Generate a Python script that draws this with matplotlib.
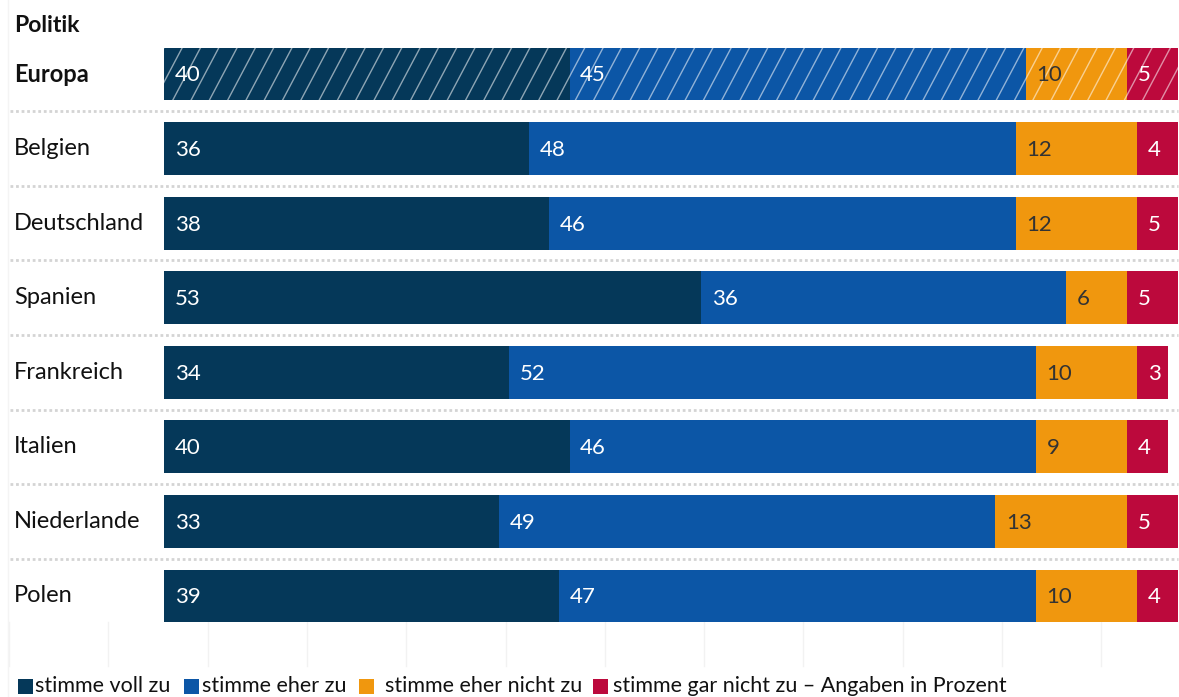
import matplotlib
matplotlib.use("Agg")
import matplotlib.pyplot as plt
from matplotlib.patches import Rectangle
from matplotlib.lines import Line2D
from matplotlib.collections import LineCollection
import matplotlib.transforms as mtransforms
import numpy as np

plt.rcParams['font.family'] = ['Lato', 'DejaVu Sans']

title = "Politik"
countries = ["Europa", "Belgien", "Deutschland", "Spanien", "Frankreich",
             "Italien", "Niederlande", "Polen"]
voll_zu = [40, 36, 38, 53, 34, 40, 33, 39]
eher_zu = [45, 48, 46, 36, 52, 46, 49, 47]
eher_nicht_zu = [10, 12, 12, 6, 10, 9, 13, 10]
gar_nicht_zu = [5, 4, 5, 5, 3, 4, 5, 4]
series_names = ["stimme voll zu", "stimme eher zu", "stimme eher nicht zu",
                "stimme gar nicht zu – Angaben in Prozent"]
colors = ["#053859", "#0c56a6", "#f0970e", "#bc093c"]
text_colors = ["white", "white", "#333333", "white"]

W, H = 1179, 697
fig = plt.figure(figsize=(W / 100, H / 100), dpi=100)

left_px, right_px = 164, 1178
row0_c, row_step = 74.0, 74.57
top_px = row0_c - row_step / 2
bot_px = row0_c + row_step * (len(countries) - 0.5)
ax = fig.add_axes([left_px / W, 1 - bot_px / H, (right_px - left_px) / W, (bot_px - top_px) / H])
ax.set_xlim(0, 100)
ax.set_ylim(len(countries) - 0.5, -0.5)
ax.axis("off")

fpx = mtransforms.Affine2D().scale(1 / W, -1 / H).translate(0, 1) + fig.transFigure

# faint vertical background lines
for gx in np.arange(9, 1179, 99.3):
    fig.add_artist(Line2D([gx, gx], [622, 666], transform=fpx, color="#f2f2f2", lw=1, zorder=0))
fig.add_artist(Line2D([8, 8], [0, 697], transform=fpx, color="#f4f4f4", lw=1, zorder=0))

series = [voll_zu, eher_zu, eher_nicht_zu, gar_nicht_zu]
y = np.arange(len(countries))
bar_h = 0.71
ux = 100 / (right_px - left_px)   # data units per pixel (x)
lefts = np.zeros(len(countries))
for si, vals in enumerate(series):
    vals = np.array(vals, dtype=float)
    bars = ax.barh(y, vals, left=lefts, height=bar_h, color=colors[si], linewidth=0)
    # hatch overlay for the Europe row
    p = bars[0]
    shift = 28 * ux
    step = 18.3 * ux
    segs = []
    for xs in np.arange(-shift, 100 + step, step):
        segs.append([(xs, y[0] + bar_h / 2), (xs + shift, y[0] - bar_h / 2)])
    lc = LineCollection(segs, colors=[(1, 1, 1, 0.55)], linewidths=1.0, zorder=3)
    ax.add_collection(lc)
    lc.set_clip_path(p)
    for i in range(len(countries)):
        ax.text(lefts[i] + 1.05, y[i] + 0.02, f"{int(vals[i])}", color=text_colors[si],
                fontsize=16, va="center", ha="left", zorder=4)
    lefts += vals

# row labels
lab_tr = mtransforms.blended_transform_factory(fpx, ax.transData)
for i, c in enumerate(countries):
    ax.text(14, y[i], c, transform=lab_tr, fontsize=17, va="center", ha="left",
            color="#111111", fontweight="bold" if i == 0 else "normal")
fig.text(14 / W, 1 - 25 / H, title, fontsize=16.5, fontweight="bold", va="center",
         ha="left", color="#111111")

# dotted separators
for i in range(len(countries) - 1):
    ax.plot([10, 1178], [i + 0.5, i + 0.5], transform=lab_tr, color="#d4d4d4",
            lw=2, linestyle=(0, (1, 1)), clip_on=False)

# legend
leg_y = 686
sq = [18, 184, 359, 593]
tx = [35, 202, 385, 613]
for k in range(4):
    fig.add_artist(Rectangle((sq[k], leg_y - 7.5), 15, 15, transform=fpx,
                             color=colors[k], lw=0))
    fig.text(tx[k] / W, 1 - leg_y / H, series_names[k], fontsize=15.5,
             va="center", ha="left", color="#111111")

fig.savefig("out.png", dpi=100)
